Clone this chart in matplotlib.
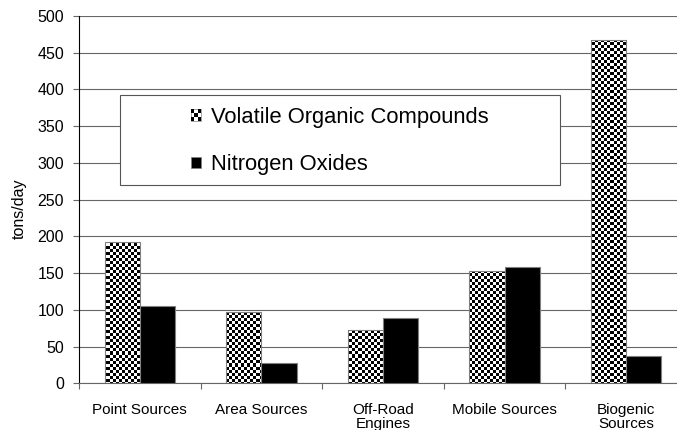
import numpy as np
import matplotlib
matplotlib.use("Agg")
import matplotlib.pyplot as plt
from matplotlib.patches import Rectangle
from matplotlib.legend_handler import HandlerBase

plt.rcParams['font.family'] = ['Liberation Sans', 'DejaVu Sans']

categories = ["Point Sources", "Area Sources", "Off-Road\nEngines", "Mobile Sources", "Biogenic\nSources"]
voc = [192, 97, 73, 153, 467]
nox = [105, 27, 89, 158, 37]
series_names = ["Volatile Organic Compounds", "Nitrogen Oxides"]
yticks = list(range(0, 501, 50))

W, H = 677, 430
fig = plt.figure(figsize=(W / 100, H / 100), dpi=100)
ax_l, ax_r, ax_t, ax_b = 79, 687, 16, 383.3
ax = fig.add_axes([ax_l / W, (H - ax_b) / H, (ax_r - ax_l) / W, (ax_b - ax_t) / H])

x = np.arange(len(categories))
bw = 0.29
grid_c = '#666666'

voc_bars = ax.bar(x - bw / 2, voc, bw, facecolor='none', edgecolor='#808080', linewidth=0.8, zorder=3)
nox_bars = ax.bar(x + bw / 2, nox, bw, facecolor='black', edgecolor='#808080', linewidth=0.8, zorder=3)

# checkerboard texture clipped to VOC bars
cell = 3.0
ncols = int(np.ceil((ax_r - ax_l) / cell))
nrows = int(np.ceil((ax_b - ax_t) / cell))
ii, jj = np.indices((nrows, ncols))
checker = ((ii + jj) % 2).astype(float)
for b in voc_bars:
    im = ax.imshow(checker, cmap='gray', vmin=0, vmax=1, interpolation='nearest',
                   extent=[0, ncols * cell / (ax_r - ax_l), 1 - nrows * cell / (ax_b - ax_t), 1],
                   transform=ax.transAxes, aspect='auto', zorder=2.5)
    im.set_clip_path(b)

ax.set_xlim(-0.5, len(categories) - 0.5)
ax.set_ylim(0, 500)
ax.set_aspect('auto')

ax.set_yticks(yticks)
ax.tick_params(axis='y', length=4.3, width=0.8, color=grid_c, pad=6.5, labelsize=11.5)
ax.yaxis.grid(True, color=grid_c, linewidth=0.8)
ax.set_axisbelow(True)

ax.set_xticks(np.arange(len(categories) + 1) - 0.5)
ax.set_xticklabels([])
ax.tick_params(axis='x', which='major', length=4, width=0.8, color=grid_c)
ax.set_xticks(x, minor=True)
ax.set_xticklabels(categories, minor=True, fontsize=11, linespacing=1.05)
ax.tick_params(axis='x', which='minor', length=0, pad=14)

for s in ['top', 'right']:
    ax.spines[s].set_visible(False)
ax.spines['left'].set_color('black')
ax.spines['left'].set_linewidth(0.8)
ax.spines['bottom'].set_color(grid_c)
ax.spines['bottom'].set_linewidth(0.8)

ax.set_ylabel("tons/day", fontsize=11.5)
ax.yaxis.set_label_coords((27 - ax_l) / (ax_r - ax_l), (ax_b - 209) / (ax_b - ax_t))

# legend box
box = Rectangle((120 / W, (H - 185) / H), 440 / W, 90 / H, transform=fig.transFigure,
                facecolor='white', edgecolor='#555555', linewidth=0.8, zorder=5)
fig.patches.append(box)


class CheckerHandler(HandlerBase):
    def create_artists(self, legend, orig_handle, xdescent, ydescent, width, height, fontsize, trans):
        arts = [Rectangle((-xdescent, -ydescent), width, height, facecolor='white',
                          edgecolor='#808080', linewidth=0.5, transform=trans)]
        n = 3
        cw, ch = width / n, height / n
        for i in range(n):
            for j in range(n):
                if (i + j) % 2 == 0:
                    arts.append(Rectangle((-xdescent + i * cw, -ydescent + j * ch), cw, ch,
                                          facecolor='black', edgecolor='none', transform=trans))
        return arts


h1 = Rectangle((0, 0), 1, 1)
h2 = Rectangle((0, 0), 1, 1, facecolor='black', edgecolor='#808080', linewidth=0.5)
leg = fig.legend([h1, h2], series_names, handler_map={h1: CheckerHandler()},
                 loc='center left', bbox_to_anchor=(191 / W, (H - 141) / H),
                 frameon=False, fontsize=15.8, handlelength=0.45, handleheight=0.45,
                 handletextpad=0.45, labelspacing=1.22, borderpad=0, borderaxespad=0)
leg.set_zorder(6)

fig.savefig("out.png", dpi=100)
